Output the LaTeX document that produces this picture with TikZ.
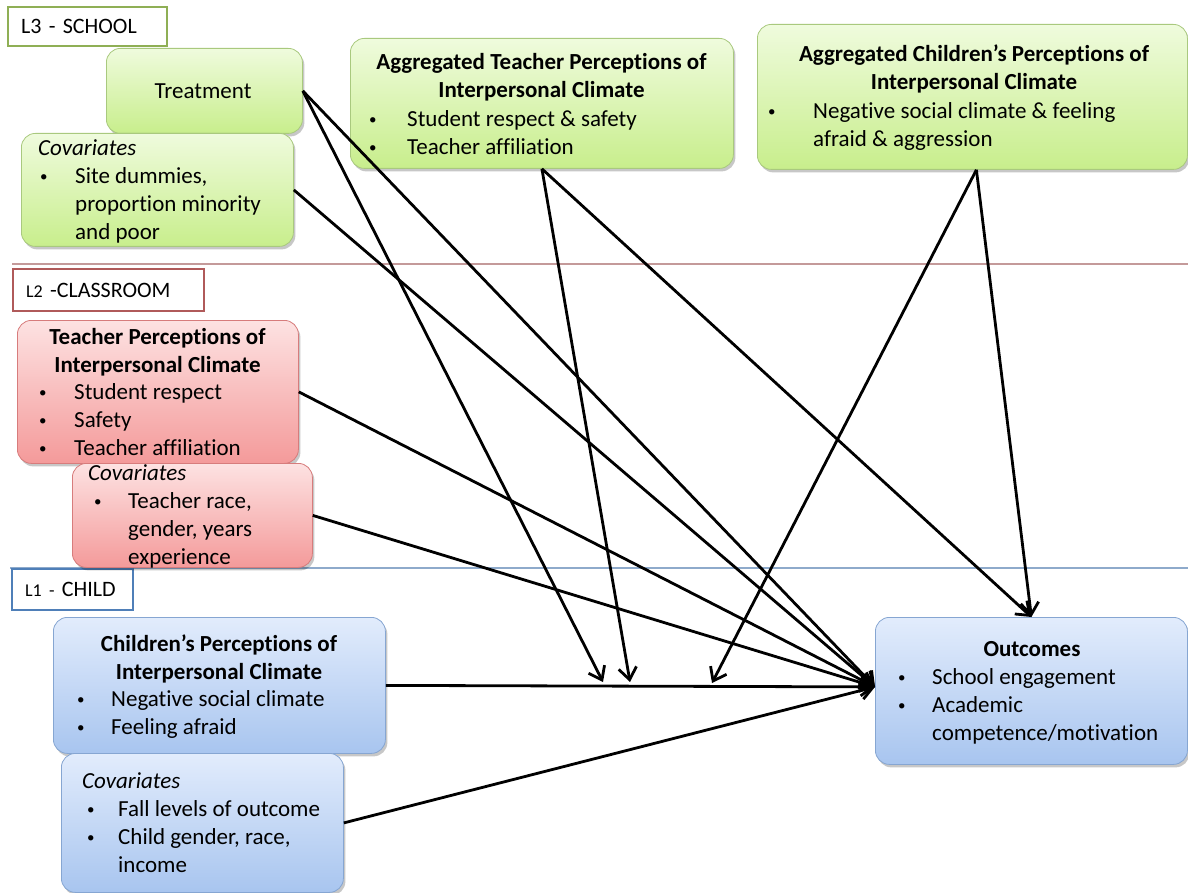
\documentclass[tikz,border=0pt]{standalone}
\usepackage{fontspec}
\setmainfont{Carlito}[Ligatures=NoCommon]
\usetikzlibrary{arrows.meta,shadows,calc}
\definecolor{gtop}{HTML}{EFFBDD}
\definecolor{gbot}{HTML}{C8EE8C}
\definecolor{gbd}{HTML}{A9C97E}
\definecolor{rtop}{HTML}{FDE2E2}
\definecolor{rbot}{HTML}{F49A9A}
\definecolor{rbd}{HTML}{D77C7C}
\definecolor{btop}{HTML}{E2ECFC}
\definecolor{bbot}{HTML}{A8C5EF}
\definecolor{bbd}{HTML}{86A6D2}
\definecolor{lthree}{HTML}{8FAF55}
\definecolor{ltwo}{HTML}{B05A5A}
\definecolor{lone}{HTML}{4F7FB8}
\definecolor{sepred}{HTML}{C49A9A}
\definecolor{sepblue}{HTML}{8EAACB}
\newcommand\bul{\raisebox{2pt}{\fontsize{15}{15}\selectfont\textbullet}}
\begin{document}
\begin{tikzpicture}[x=1pt,y=-1pt,
  txt/.style={inner sep=0pt, font=\fontsize{23}{28}\selectfont, text=black},
  hd/.style={inner sep=0pt, font=\fontsize{23}{28}\selectfont\bfseries, text=black},
  lvl/.style={draw, line width=2.2pt, fill=white, anchor=north west, inner xsep=13pt, align=left,
    font=\fontsize{22}{24}\selectfont},
  boxbase/.style={line width=0.8pt, rounded corners=14pt, anchor=north west,
    drop shadow={shadow xshift=2pt, shadow yshift=-3pt, opacity=0.22, fill=black}},
  gbox/.style={boxbase, draw=gbd, top color=gtop, bottom color=gbot},
  rbox/.style={boxbase, draw=rbd, top color=rtop, bottom color=rbot},
  bbox/.style={boxbase, draw=bbd, top color=btop, bottom color=bbot},
  arr/.style={line width=2.8pt, -{Straight Barb[length=12pt,width=18pt]}},
]
\useasboundingbox (0,0) rectangle (1188,893);
\fill[white] (0,0) rectangle (1188,893);

% separators
\draw[sepred, line width=1.3pt] (12,264) -- (1188,264);
\draw[sepblue, line width=1.3pt] (10,568) -- (1188,568);

% level labels
\node[lvl, draw=lthree, minimum width=159pt, minimum height=39pt, text width=133pt] (l3) at (7,6) {L3 - SCHOOL};
\node[lvl, draw=ltwo, minimum width=191pt, minimum height=42pt, text width=165pt] (l2) at (12,268) {{\fontsize{18}{20}\selectfont L2} -CLASSROOM};
\node[lvl, draw=lone, minimum width=121pt, minimum height=41pt, text width=95pt] (l1) at (11,568) {{\fontsize{18}{20}\selectfont L1 -} CHILD};

% boxes
\node[gbox, minimum width=196pt, minimum height=85pt] (treat) at (106,48) {};
\node[gbox, minimum width=272pt, minimum height=113pt] (sc) at (21,133) {};
\node[gbox, minimum width=383pt, minimum height=130pt] (agt) at (350,38) {};
\node[gbox, minimum width=430pt, minimum height=145pt] (agc) at (757,24) {};
\node[rbox, minimum width=281pt, minimum height=143pt] (tp) at (17,320) {};
\node[rbox, minimum width=240pt, minimum height=104pt] (tc) at (72,463) {};
\node[bbox, minimum width=332pt, minimum height=136pt] (cp) at (53,617) {};
\node[bbox, minimum width=282pt, minimum height=139pt] (cc) at (61,753) {};
\node[bbox, minimum width=312pt, minimum height=147pt] (out) at (875,617) {};

% texts
\node[txt, anchor=base] (treatT) at (203,99) {Treatment};

\node[txt, anchor=base west] (scT) at (38,156) {\begin{tabular}[t]{@{\hspace{2pt}}p{35pt}@{}l@{}}
\multicolumn{2}{@{}l@{}}{\itshape Covariates}\\
\bul & Site dummies,\\
 & proportion minority\\
 & and poor\end{tabular}};

\node[hd, anchor=base] (agtH) at (541.5,70) {\begin{tabular}[t]{@{}c@{}}Aggregated Teacher Perceptions of\\ Interpersonal Climate\end{tabular}};
\node[txt, anchor=base west] (agtL) at (369,127) {\begin{tabular}[t]{@{}p{38pt}@{}l@{}}
\bul & Student respect \& safety\\
\bul & Teacher affiliation\end{tabular}};

\node[hd, anchor=base] (agcH) at (974,62) {\begin{tabular}[t]{@{}c@{}}Aggregated Children’s Perceptions of\\ Interpersonal Climate\end{tabular}};
\node[txt, anchor=base west] (agcL) at (768,119) {\begin{tabular}[t]{@{}p{45pt}@{}l@{}}
\bul & Negative social climate \& feeling\\
 & afraid \& aggression\end{tabular}};

\node[hd, anchor=base] (tpH) at (157.5,344) {\begin{tabular}[t]{@{}c@{}}Teacher Perceptions of\\ Interpersonal Climate\end{tabular}};
\node[txt, anchor=base west] (tpL) at (39,399) {\begin{tabular}[t]{@{}p{35pt}@{}l@{}}
\bul & Student respect\\
\bul & Safety\\
\bul & Teacher affiliation\end{tabular}};

\node[txt, anchor=base west] (tcT) at (88,480) {\begin{tabular}[t]{@{\hspace{6pt}}p{34pt}@{}l@{}}
\multicolumn{2}{@{}l@{}}{\itshape Covariates}\\
\bul & Teacher race,\\
 & gender, years\\
 & experience\end{tabular}};

\node[hd, anchor=base] (cpH) at (219,651) {\begin{tabular}[t]{@{}c@{}}Children’s Perceptions of\\ Interpersonal Climate\end{tabular}};
\node[txt, anchor=base west] (cpL) at (77,706) {\begin{tabular}[t]{@{}p{34pt}@{}l@{}}
\bul & Negative social climate\\
\bul & Feeling afraid\end{tabular}};

\node[txt, anchor=base west] (ccT) at (82,788) {\begin{tabular}[t]{@{\hspace{5pt}}p{31pt}@{}l@{}}
\multicolumn{2}{@{}l@{}}{\itshape Covariates}\\
\bul & Fall levels of outcome\\
\bul & Child gender, race,\\
 & income\end{tabular}};

\node[hd, anchor=base] (outH) at (1032,656) {Outcomes};
\node[txt, anchor=base west] (outL) at (898,684) {\begin{tabular}[t]{@{}p{34pt}@{}l@{}}
\bul & School engagement\\
\bul & Academic\\
 & competence/motivation\end{tabular}};

% moderation points on the child -> outcome path
\coordinate (m1) at (603,682);
\coordinate (m2) at (630,682);
\coordinate (m3) at (712,683);
\coordinate (ow) at ([yshift=4pt]out.west);
\coordinate (agcs) at ([xshift=4pt]agc.south);

% arrows
\draw[arr] (treat.east) -- (ow);
\draw[arr] (treat.east) -- (m1);
\draw[arr] (sc.east) -- (ow);
\draw[arr] (agt.south) -- (m2);
\draw[arr] (agt.south) -- (out.north);
\draw[arr] (agcs) -- (m3);
\draw[arr] (agcs) -- (out.north);
\draw[arr] (tp.east) -- (ow);
\draw[arr] (tc.east) -- (ow);
\draw[arr] (cp.east) -- (ow);
\draw[arr] (cc.east) -- (ow);
\end{tikzpicture}
\end{document}
